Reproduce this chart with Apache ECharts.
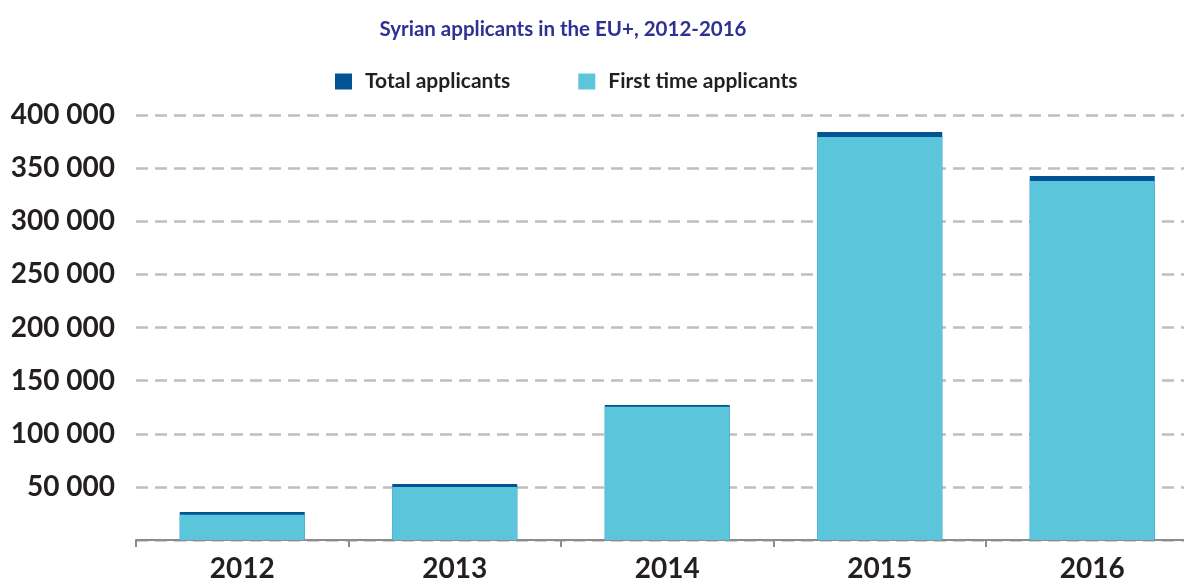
<!DOCTYPE html>
<html>
<head>
<meta charset="utf-8">
<script src="https://cdn.jsdelivr.net/npm/echarts@6/dist/echarts.min.js"></script>
<style>html,body{margin:0;padding:0;background:#fff;overflow:hidden}#c{width:1200px;height:586px}</style>
</head>
<body>
<div id="c"></div>
<script>
const years = ['2012', '2013', '2014', '2015', '2016'];
const totalApplicants = [26400, 52700, 127000, 384000, 342600];
const firstTimeApplicants = [23800, 49900, 125500, 379300, 337900];
const yTicks = [0, 50000, 100000, 150000, 200000, 250000, 300000, 350000, 400000];

const chart = echarts.init(document.getElementById('c'));
const fmt = v => v === 0 ? '' : String(v).replace(/\B(?=(\d{3})+(?!\d))/g, ' ');
chart.setOption({
  animation: false,
  backgroundColor: '#ffffff',
  title: {
    text: 'Syrian applicants in the EU+, 2012-2016',
    left: 558, top: 14, textAlign: 'center',
    textStyle: { fontFamily: 'Lato', fontWeight: 'bold', fontSize: 20.5, color: '#2e3192' }
  },
  legend: {
    left: 335, top: 71, padding: 0,
    itemWidth: 17, itemHeight: 16, itemGap: 68,
    icon: 'rect',
    textStyle: { fontFamily: 'Lato', fontWeight: 'bold', fontSize: 21, color: '#231f20', padding: [0, 0, 0, 8] },
    data: ['Total applicants', 'First time applicants']
  },
  grid: { left: 136, top: 115, width: 1062.5, height: 425, containLabel: false },
  xAxis: {
    type: 'category',
    data: years,
    axisLine: { lineStyle: { color: '#8c8c8c', width: 2 } },
    axisTick: { show: true, length: 7, lineStyle: { color: '#8c8c8c', width: 2 } },
    axisLabel: { fontFamily: 'Lato', fontWeight: 'bold', fontSize: 28, color: '#231f20', margin: 15 }
  },
  yAxis: {
    type: 'value',
    min: yTicks[0], max: yTicks[yTicks.length - 1], interval: yTicks[1] - yTicks[0],
    axisLine: { show: false }, axisTick: { show: false },
    axisLabel: { formatter: fmt, fontFamily: 'Lato', fontWeight: 'bold', fontSize: 28, color: '#231f20', margin: 21 },
    splitLine: { lineStyle: { color: '#bfbfbf', width: 2.5, type: [12, 7] } }
  },
  series: [
    { name: 'Total applicants', type: 'bar', data: totalApplicants, barWidth: 125, barGap: '-100%', itemStyle: { color: '#005494' } },
    { name: 'First time applicants', type: 'bar', data: firstTimeApplicants, barWidth: 125, barGap: '-100%', itemStyle: { color: '#5bc5dc' } }
  ]
});
</script>
</body>
</html>
